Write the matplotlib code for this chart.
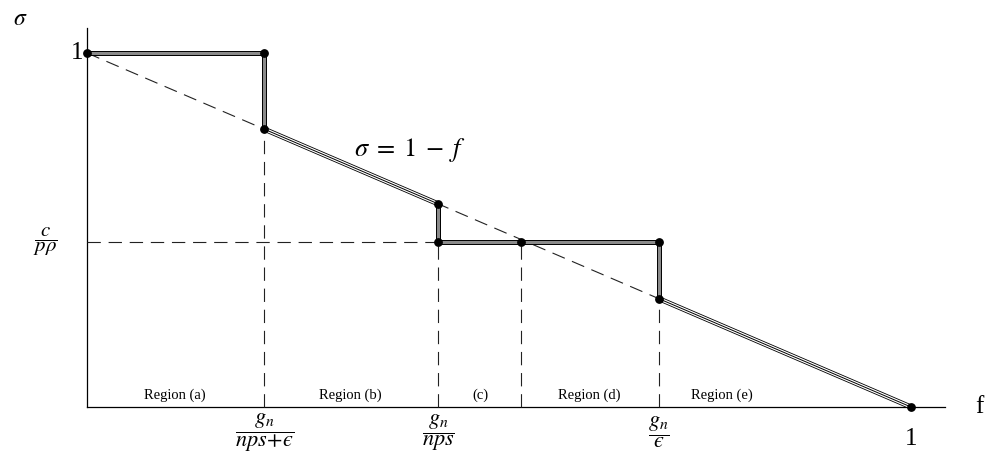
import matplotlib
matplotlib.use("Agg")
import numpy as np
import matplotlib.pyplot as plt

plt.rcParams['font.family'] = ['Liberation Serif', 'DejaVu Serif']
plt.rcParams['mathtext.fontset'] = 'stix'

# Puntos clave del diagrama (fracciones del eje f)
f_a = 0.215      # g_n/(nps+eps)
f_b = 0.426      # g_n/nps
f_c = 0.527      # cruce con c/(p rho)
f_d = 0.694      # g_n/eps
nivel = 0.466    # c/(p rho)

regiones = ["Region (a)", "Region (b)", "(c)", "Region (d)", "Region (e)"]
centros = [0.107, 0.320, 0.477, 0.610, 0.770]

fig = plt.figure(figsize=(9.87, 4.54), dpi=100)
ax = fig.add_axes([0, 0, 1, 1])
ax.set_xlim(-87 / 824, 900 / 824)
ax.set_ylim(-47 / 354, 407 / 354)
ax.axis("off")

# Ejes
ax.plot([0, 0], [0, 1.07], color="black", lw=0.9)
ax.plot([0, 1.041], [0, 0], color="black", lw=0.9)

# Lineas discontinuas
dash = dict(color="#222222", lw=0.8, dashes=(12, 7))
ax.plot([0, 1], [1, 0], **dash)
ax.plot([0, f_b], [nivel, nivel], **dash)
ax.plot([f_a, f_a], [0, 1 - f_a], **dash)
ax.plot([f_b, f_b], [0, nivel], **dash)
ax.plot([f_c, f_c], [0, nivel], **dash)
ax.plot([f_d, f_d], [0, 1 - f_d], **dash)


def escalon(xs, ys):
    ax.plot(xs, ys, color="black", lw=3.6, solid_capstyle="butt", zorder=3)
    ax.plot(xs, ys, color="#8a8a8a", lw=2.2, solid_capstyle="butt", zorder=4)


def diagonal(xs, ys):
    ax.plot(xs, ys, color="black", lw=3.6, solid_capstyle="butt", zorder=3)
    ax.plot(xs, ys, color="white", lw=2.4, solid_capstyle="butt", zorder=4)
    ax.plot(xs, ys, color="black", lw=0.7, solid_capstyle="butt", zorder=5)


escalon([0, f_a, f_a], [1, 1, 1 - f_a])
diagonal([f_a, f_b], [1 - f_a, 1 - f_b])
escalon([f_b, f_b, f_d, f_d], [1 - f_b, nivel, nivel, 1 - f_d])
diagonal([f_d, 1], [1 - f_d, 0])

px = [0, f_a, f_a, f_b, f_b, f_c, f_d, f_d, 1]
py = [1, 1, 1 - f_a, 1 - f_b, nivel, nivel, nivel, 1 - f_d, 0]
ax.scatter(px, py, s=28, color="black", zorder=6)

# Textos
ax.text(-0.09, 1.096, r"$\sigma$", fontsize=17, ha="left", va="center")
ax.text(-0.005, 1.0, "1", fontsize=18, ha="right", va="center")
ax.text(1.083, 0.0, "f", fontsize=18, ha="center", va="center")
ax.text(1.0, -0.09, "1", fontsize=18, ha="center", va="center")
ax.text(0.392, 0.726, r"$\sigma\;=\;1\;-\;f$", fontsize=19, ha="center", va="center")
ax.text(-0.05, nivel, r"$\dfrac{c}{p\rho}$", fontsize=15, ha="center", va="center")

ax.text(f_a, -0.072, "$\\dfrac{g_n}{nps\\!+\\!\u03f5}$", fontsize=16, ha="center", va="center")
ax.text(f_b, -0.072, r"$\dfrac{g_n}{nps}$", fontsize=16, ha="center", va="center")
ax.text(f_d, -0.072, "$\\dfrac{g_n}{\u03f5}$", fontsize=16, ha="center", va="center")

for nombre, cx in zip(regiones, centros):
    ax.text(cx, 0.034, nombre, fontsize=10.5, ha="center", va="center")

plt.savefig("out.png", dpi=100)
